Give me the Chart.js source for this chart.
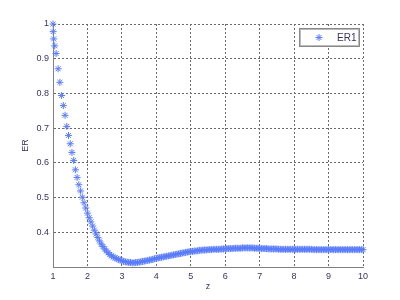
<!DOCTYPE html>
<html>
<head>
<meta charset="utf-8">
<script src="https://cdn.jsdelivr.net/npm/chart.js@4.4.1/dist/chart.umd.min.js"></script>
<style>
  html, body { margin: 0; padding: 0; background: #fff; }
</style>
</head>
<body>
<canvas id="erChart" width="400" height="300"></canvas>
<script>
// z positions of the plotted points
const zValues = [
  1, 1.005, 1.02, 1.05, 1.09,
  1.15, 1.2, 1.25, 1.3, 1.35, 1.4, 1.45, 1.5, 1.55, 1.6, 1.65, 1.7, 1.75, 1.8, 1.85, 1.9, 1.95, 2,
  2.05, 2.1, 2.15, 2.2, 2.25, 2.3, 2.35, 2.4, 2.45, 2.5, 2.55, 2.6, 2.65, 2.7, 2.75, 2.8, 2.85, 2.9, 2.95, 3,
  3.05, 3.1, 3.15, 3.2, 3.25, 3.3, 3.35, 3.4, 3.45, 3.5, 3.55, 3.6, 3.65, 3.7, 3.75, 3.8, 3.85, 3.9, 3.95, 4,
  4.05, 4.1, 4.15, 4.2, 4.25, 4.3, 4.35, 4.4, 4.45, 4.5, 4.55, 4.6, 4.65, 4.7, 4.75, 4.8, 4.85, 4.9, 4.95, 5,
  5.05, 5.1, 5.15, 5.2, 5.25, 5.3, 5.35, 5.4, 5.45, 5.5, 5.55, 5.6, 5.65, 5.7, 5.75, 5.8, 5.85, 5.9, 5.95, 6,
  6.05, 6.1, 6.15, 6.2, 6.25, 6.3, 6.35, 6.4, 6.45, 6.5, 6.55, 6.6, 6.65, 6.7, 6.75, 6.8, 6.85, 6.9, 6.95, 7,
  7.05, 7.1, 7.15, 7.2, 7.25, 7.3, 7.35, 7.4, 7.45, 7.5, 7.55, 7.6, 7.65, 7.7, 7.75, 7.8, 7.85, 7.9, 7.95, 8,
  8.05, 8.1, 8.15, 8.2, 8.25, 8.3, 8.35, 8.4, 8.45, 8.5, 8.55, 8.6, 8.65, 8.7, 8.75, 8.8, 8.85, 8.9, 8.95, 9,
  9.05, 9.1, 9.15, 9.2, 9.25, 9.3, 9.35, 9.4, 9.45, 9.5, 9.55, 9.6, 9.65, 9.7, 9.75, 9.8, 9.85, 9.9, 9.95, 10
];

// ER1 values
const erValues = [
  1.000, 0.978, 0.957, 0.937, 0.915,
  0.871, 0.832, 0.794, 0.765, 0.737, 0.705, 0.679, 0.655, 0.630, 0.607, 0.580, 0.558, 0.537, 0.519, 0.501, 0.485, 0.470, 0.455,
  0.442, 0.430, 0.418, 0.406, 0.395, 0.385, 0.375, 0.366, 0.359, 0.352, 0.346, 0.341, 0.336, 0.332, 0.329, 0.326, 0.324, 0.322, 0.320, 0.318,
  0.316, 0.315, 0.314, 0.313, 0.313, 0.312, 0.312, 0.313, 0.313, 0.314, 0.315, 0.316, 0.317, 0.318, 0.319, 0.320, 0.321, 0.322, 0.324, 0.325,
  0.326, 0.327, 0.328, 0.329, 0.330, 0.331, 0.332, 0.333, 0.334, 0.335, 0.336, 0.337, 0.338, 0.339, 0.340, 0.341, 0.342, 0.343, 0.344, 0.344,
  0.345, 0.346, 0.346, 0.347, 0.348, 0.348, 0.349, 0.349, 0.349, 0.350, 0.350, 0.350, 0.351, 0.351, 0.351, 0.351, 0.351, 0.352, 0.352, 0.352,
  0.353, 0.353, 0.353, 0.353, 0.354, 0.354, 0.354, 0.354, 0.354, 0.355, 0.355, 0.355, 0.355, 0.355, 0.355, 0.355, 0.354, 0.354, 0.354, 0.354,
  0.353, 0.353, 0.353, 0.353, 0.352, 0.352, 0.352, 0.352, 0.352, 0.352, 0.351, 0.351, 0.351, 0.351, 0.351, 0.351, 0.351, 0.351, 0.351, 0.351,
  0.351, 0.351, 0.351, 0.351, 0.351, 0.351, 0.351, 0.351, 0.351, 0.351, 0.350, 0.350, 0.350, 0.350, 0.350, 0.350, 0.350, 0.350, 0.350, 0.350,
  0.350, 0.350, 0.350, 0.350, 0.350, 0.350, 0.350, 0.350, 0.350, 0.350, 0.350, 0.350, 0.350, 0.350, 0.350, 0.350, 0.350, 0.350, 0.350, 0.350
];

const xTicks = [1, 2, 3, 4, 5, 6, 7, 8, 9, 10];
const yTicks = [0.4, 0.5, 0.6, 0.7, 0.8, 0.9, 1];
const seriesName = 'ER1';

const textColor = '#3a3360';
const markerColor = '#5a7cff';
const gridColor = '#6a6a6a';
const font = { family: 'Liberation Sans, Arial, sans-serif', size: 9 };

// MATLAB style boxed legend inside the plot, top right
const legendBox = {
  id: 'legendBox',
  afterDatasetsDraw(chart) {
    const { ctx, chartArea } = chart;
    const ds = chart.data.datasets[0];
    const w = 60, h = 18;
    const x = chartArea.right - 64, y = chartArea.top + 4;
    ctx.save();
    ctx.fillStyle = '#fff';
    ctx.fillRect(x, y, w, h);
    ctx.strokeStyle = '#888';
    ctx.lineWidth = 1;
    ctx.strokeRect(x + 0.5, y + 0.5, w, h);
    ctx.strokeStyle = '#bbb';
    ctx.strokeRect(x + 1.5, y + 1.5, w - 2, h - 2);
    ctx.strokeStyle = ds.borderColor;
    ctx.fillStyle = ds.borderColor;
    Chart.helpers.drawPoint(ctx, {
      pointStyle: ds.pointStyle, radius: ds.pointRadius, borderWidth: 1, rotation: 0
    }, x + 20, y + 9.5);
    ctx.fillStyle = textColor;
    ctx.font = '10px ' + font.family;
    ctx.textBaseline = 'middle';
    ctx.textAlign = 'left';
    ctx.fillText(ds.label, x + 38, y + 10);
    ctx.restore();
  }
};

const ctx = document.getElementById('erChart').getContext('2d');
const chart = new Chart(ctx, {
  type: 'scatter',
  data: {
    datasets: [{
      label: seriesName,
      data: zValues.map((z, i) => ({ x: z, y: erValues[i] })),
      showLine: false,
      pointStyle: 'star',
      pointRadius: 3.5,
      pointBorderWidth: 1,
      borderColor: markerColor,
      backgroundColor: markerColor,
      clip: false
    }]
  },
  options: {
    responsive: false,
    animation: false,
    devicePixelRatio: 1,
    layout: { padding: { left: 16, top: 24, right: 37, bottom: 4 } },
    plugins: {
      legend: { display: false },
      tooltip: { enabled: false }
    },
    scales: {
      x: {
        type: 'linear',
        min: 1,
        max: 10,
        afterBuildTicks: s => { s.ticks = xTicks.map(v => ({ value: v })); },
        afterFit: s => { s.height = 29; },
        ticks: { font, color: textColor, padding: 4, maxRotation: 0 },
        grid: { color: gridColor, lineWidth: 1, drawTicks: false },
        border: { display: true, color: '#808080', width: 1, dash: [2, 2] },
        title: { display: true, text: 'z', font, color: textColor }
      },
      y: {
        type: 'linear',
        min: 0.3,
        max: 1,
        afterBuildTicks: s => { s.ticks = yTicks.map(v => ({ value: v })); },
        afterFit: s => { s.width = 37; },
        ticks: { font, color: textColor, padding: 4, callback: v => String(+v.toFixed(1)) },
        grid: { color: gridColor, lineWidth: 1, drawTicks: false },
        border: { display: true, color: '#808080', width: 1, dash: [2, 2] },
        title: { display: true, text: 'ER', font, color: textColor }
      }
    }
  },
  plugins: [legendBox]
});
</script>
</body>
</html>
